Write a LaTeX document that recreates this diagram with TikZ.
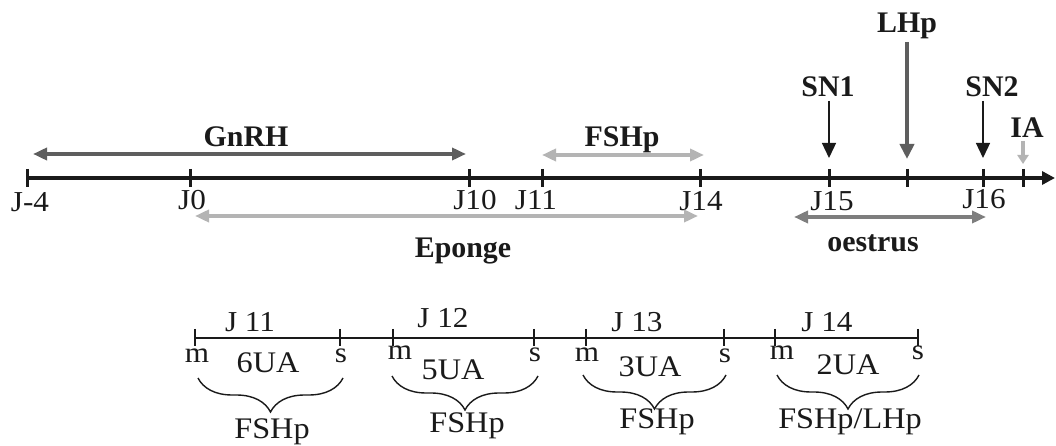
\documentclass[tikz,border=0pt]{standalone}
\usepackage{fontspec}
\setmainfont{Liberation Serif}
\newfontfamily\regf[FakeStretch=1.08]{Liberation Serif}
\usetikzlibrary{arrows.meta,decorations.pathreplacing}

\definecolor{ink}{HTML}{1A1A1A}
\definecolor{darkarr}{HTML}{5E5E5E}
\definecolor{midarr}{HTML}{7E7E7E}
\definecolor{lightarr}{HTML}{B4B4B4}

\begin{document}
\begin{tikzpicture}[x=1bp,y=-1bp,
  lbl/.style={anchor=base, inner sep=0pt, text=ink, font=\regf\fontsize{29}{29}\selectfont},
  daylbl/.style={anchor=base, inner sep=0pt, text=ink, font=\regf\fontsize{29}{29}\selectfont},
  sublbl/.style={anchor=base, inner sep=0pt, text=ink, font=\regf\fontsize{30}{30}\selectfont},
  mslbl/.style={anchor=base, inner sep=0pt, text=ink, font=\regf\fontsize{29}{29}\selectfont},
  blbl/.style={anchor=base, inner sep=0pt, text=ink, font=\bfseries\fontsize{30}{30}\selectfont},
  axisline/.style={draw=ink, line width=3.8bp, -{Triangle[length=13bp,width=13bp]}},
  subaxis/.style={draw=ink, line width=2.5bp},
  tickmark/.style={draw=ink, line width=3bp},
  subtick/.style={draw=ink, line width=2.5bp},
  span/.style={line width=4bp, {Triangle[length=14bp,width=12bp]}-{Triangle[length=14bp,width=12bp]}},
  pointer/.style={draw=ink, line width=1.3bp, -{Triangle[length=15bp,width=14bp]}},
  grp/.style={draw=ink, line width=1.4bp, decorate, decoration={brace, mirror, amplitude=34bp}}
]
\useasboundingbox[fill=white] (0,0) rectangle (1056,446);

% ---------- main time axis ----------
\coordinate (axS) at (27,178);
\coordinate (axE) at (1055,178);
\draw[axisline] (axS) -- (axE);
\foreach \x in {27,190,469,542,700,829,907,983,1023}
  \draw[tickmark] (\x,169) -- (\x,187);

\node[lbl] (jm4) at (30,212) {J-4};
\node[lbl] (j0)  at (192,210) {J0};
\node[lbl] (j10) at (475,210) {J10};
\node[lbl] (j11) at (536,210) {J11};
\node[lbl] (j14) at (701,211) {J14};
\node[lbl] (j15) at (832,211) {J15};
\node[lbl] (j16) at (984,209) {J16};

% ---------- treatment periods ----------
\coordinate (gA) at (33,154);  \coordinate (gB) at (466,154);
\draw[span, draw=darkarr, fill=darkarr] (gA) -- (gB);
\node[blbl] (gnrh) at (246,147) {GnRH};

\coordinate (fA) at (542,155); \coordinate (fB) at (704,155);
\draw[span, draw=lightarr, fill=lightarr] (fA) -- (fB);
\node[blbl] (fshp) at (622,147) {FSHp};

\coordinate (eA) at (195,216); \coordinate (eB) at (698,216);
\draw[span, draw=lightarr, fill=lightarr] (eA) -- (eB);
\node[blbl] (eponge) at (463,258) {Eponge};

\coordinate (oA) at (794,217); \coordinate (oB) at (986,217);
\draw[span, draw=midarr, fill=midarr] (oA) -- (oB);
\node[blbl] (oestrus) at (873,252) {oestrus};

% ---------- events ----------
\node[blbl] (sn1) at (828,97) {SN1};
\coordinate (sn1t) at (829,158);
\draw[pointer] (829,101) -- (sn1t);

\node[blbl] (sn2) at (992,97) {SN2};
\coordinate (sn2t) at (983,158);
\draw[pointer] (983,101) -- (sn2t);

\node[blbl] (lhp) at (907,33) {LHp};
\coordinate (lhpt) at (907,159);
\draw[draw=darkarr, fill=darkarr, line width=4.5bp, -{Triangle[length=15bp,width=14bp]}] (907,42) -- (lhpt);

\node[blbl] (ia) at (1027,138) {IA};
\coordinate (iat) at (1023,164);
\draw[draw=lightarr, fill=lightarr, line width=4bp, -{Triangle[length=9bp,width=11bp]}] (1023,141) -- (iat);

% ---------- detail of days 11 to 14 ----------
\coordinate (sbS) at (195,338);
\coordinate (sbE) at (918,338);
\draw[subaxis] (sbS) -- (sbE);
\foreach \x in {195,340,393,534,586,724,775,918}
  \draw[subtick] (\x,329) -- (\x,346);

\node[daylbl] (d11) at (250,332) {J 11};
\node[daylbl] (d12) at (443,328) {J 12};
\node[daylbl] (d13) at (637,332) {J 13};
\node[daylbl] (d14) at (827,332) {J 14};

\node[mslbl] (m1) at (197,363) {m};
\node[mslbl] (s1) at (341,363) {s};
\node[mslbl] (m2) at (400,360) {m};
\node[mslbl] (s2) at (535,362) {s};
\node[mslbl] (m3) at (587,362) {m};
\node[mslbl] (s3) at (725,363) {s};
\node[mslbl] (m4) at (782,360) {m};
\node[mslbl] (s4) at (918,360) {s};

\node[sublbl] (u1) at (268,373) {6UA};
\node[sublbl] (u2) at (453,380) {5UA};
\node[sublbl] (u3) at (650,377) {3UA};
\node[sublbl] (u4) at (848,375) {2UA};

\draw[grp] (198,378) -- (343,378);
\draw[grp] (392,376) -- (538,376);
\draw[grp] (583,375) -- (726,375);
\draw[grp] (777,375) -- (919,375);

\node[sublbl] (h1) at (272,438) {FSHp};
\node[sublbl] (h2) at (467,432) {FSHp};
\node[sublbl] (h3) at (657,428) {FSHp};
\node[sublbl] (h4) at (850,428) {FSHp/LHp};
\end{tikzpicture}
\end{document}
